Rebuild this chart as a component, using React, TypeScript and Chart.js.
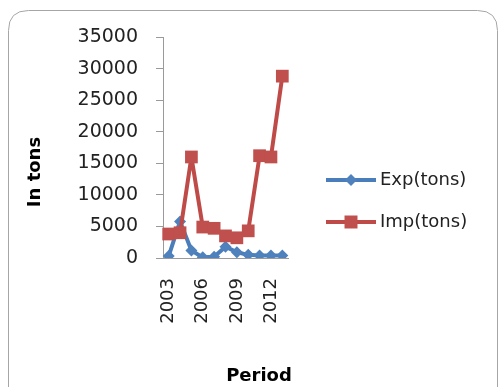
import React, { useEffect, useRef } from 'react';
import { Chart, registerables } from 'chart.js';

Chart.register(...registerables);

const years = ['2003', '2004', '2005', '2006', '2007', '2008', '2009', '2010', '2011', '2012', '2013'];
const expTons = [300, 5800, 1200, 100, 200, 1800, 900, 500, 400, 400, 400];
const impTons = [3800, 4000, 16000, 4900, 4700, 3500, 3200, 4300, 16200, 16000, 28800];
const yTicks = [0, 5000, 10000, 15000, 20000, 25000, 30000, 35000];
const seriesNames = ['Exp(tons)', 'Imp(tons)'];

const BLUE_LINE = '#4a7ebb';
const BLUE_FILL = '#4f81bd';
const RED_LINE = '#be4b48';
const RED_FILL = '#c0504d';
const FONT = '"DejaVu Sans", sans-serif';

const framePlugin = {
  id: 'frame',
  beforeDraw(chart: any) {
    const ctx = chart.ctx;
    ctx.save();
    ctx.fillStyle = '#ffffff';
    ctx.fillRect(0, 0, chart.width, chart.height);
    const x = 8.5, y = 10.5, w = 489, h = 400, r = 20;
    ctx.beginPath();
    ctx.moveTo(x + r, y);
    ctx.lineTo(x + w - r, y);
    ctx.quadraticCurveTo(x + w, y, x + w, y + r);
    ctx.lineTo(x + w, y + h - r);
    ctx.quadraticCurveTo(x + w, y + h, x + w - r, y + h);
    ctx.lineTo(x + r, y + h);
    ctx.quadraticCurveTo(x, y + h, x, y + h - r);
    ctx.lineTo(x, y + r);
    ctx.quadraticCurveTo(x, y, x + r, y);
    ctx.closePath();
    ctx.strokeStyle = '#a6a6a6';
    ctx.lineWidth = 1;
    ctx.stroke();
    ctx.restore();
  },
  afterDraw(chart: any) {
    const ctx = chart.ctx;
    ctx.save();
    ctx.fillStyle = '#000000';
    ctx.font = 'bold 18px ' + FONT;
    ctx.textAlign = 'center';
    ctx.textBaseline = 'middle';
    ctx.fillText('Period', 259, 376);
    ctx.translate(35, 172);
    ctx.rotate(-Math.PI / 2);
    ctx.fillText('In tons', 0, 0);
    ctx.restore();

    ctx.save();
    const items = [
      { name: seriesNames[0], line: BLUE_LINE, fill: BLUE_FILL, shape: 'diamond', y: 180 },
      { name: seriesNames[1], line: RED_LINE, fill: RED_FILL, shape: 'square', y: 222 },
    ];
    for (const it of items) {
      ctx.strokeStyle = it.line;
      ctx.lineWidth = 4;
      ctx.beginPath();
      ctx.moveTo(326, it.y);
      ctx.lineTo(376, it.y);
      ctx.stroke();
      ctx.fillStyle = it.fill;
      ctx.beginPath();
      if (it.shape === 'diamond') {
        ctx.moveTo(351, it.y - 6);
        ctx.lineTo(357, it.y);
        ctx.lineTo(351, it.y + 6);
        ctx.lineTo(345, it.y);
        ctx.closePath();
      } else {
        ctx.rect(344.5, it.y - 6.5, 13, 13);
      }
      ctx.fill();
      ctx.fillStyle = '#222222';
      ctx.font = '18px ' + FONT;
      ctx.textAlign = 'left';
      ctx.textBaseline = 'middle';
      ctx.fillText(it.name, 380, it.y);
    }
    ctx.restore();
  },
};

export default function App() {
  const ref = useRef<HTMLCanvasElement | null>(null);
  useEffect(() => {
    if (!ref.current) return;
    const chart = new Chart(ref.current, {
      type: 'line',
      data: {
        labels: years,
        datasets: [
          {
            label: seriesNames[0],
            data: expTons,
            borderColor: BLUE_LINE,
            backgroundColor: BLUE_FILL,
            borderWidth: 4,
            borderJoinStyle: 'round',
            pointStyle: 'rectRot',
            pointRadius: 6,
            pointBorderWidth: 0,
            pointBackgroundColor: BLUE_FILL,
            tension: 0,
            order: 1,
          },
          {
            label: seriesNames[1],
            data: impTons,
            borderColor: RED_LINE,
            backgroundColor: RED_FILL,
            borderWidth: 4,
            borderJoinStyle: 'round',
            pointStyle: 'rect',
            pointRadius: 9,
            pointBorderWidth: 0,
            pointBackgroundColor: RED_FILL,
            tension: 0,
            order: 0,
          },
        ],
      },
      options: {
        responsive: false,
        animation: false,
        layout: { padding: { left: 0, right: 211, top: 37, bottom: 0 } },
        plugins: {
          legend: { display: false },
          tooltip: { enabled: false },
          title: { display: false },
        },
        scales: {
          x: {
            type: 'category',
            offset: true,
            grid: { display: false, drawTicks: false },
            border: { display: true, color: '#9a9a9a', width: 1 },
            ticks: {
              autoSkip: false,
              minRotation: 90,
              maxRotation: 90,
              padding: 20,
              color: '#222222',
              font: { family: FONT, size: 18 },
              callback: (_v: any, i: number) => (i % 3 === 0 ? years[i] : ''),
            },
            afterFit: (scale: any) => {
              scale.height = 129;
            },
          },
          y: {
            min: 0,
            max: 35000,
            afterBuildTicks: (scale: any) => {
              scale.ticks = yTicks.map((v) => ({ value: v }));
            },
            grid: {
              drawOnChartArea: false,
              drawTicks: true,
              tickLength: 7,
              color: '#9a9a9a',
            },
            border: { display: true, color: '#9a9a9a', width: 1 },
            ticks: {
              padding: 18,
              color: '#222222',
              font: { family: FONT, size: 19 },
              callback: (v: any) => String(v),
            },
            afterFit: (scale: any) => {
              scale.width = 163;
            },
          },
        },
      },
      plugins: [framePlugin],
    });
    return () => chart.destroy();
  }, []);
  return (
    <div style={{ position: 'absolute', left: 0, top: 0, width: 499, height: 387 }}>
      <canvas ref={ref} width={499} height={387} style={{ display: 'block', width: 499, height: 387 }} />
    </div>
  );
}
